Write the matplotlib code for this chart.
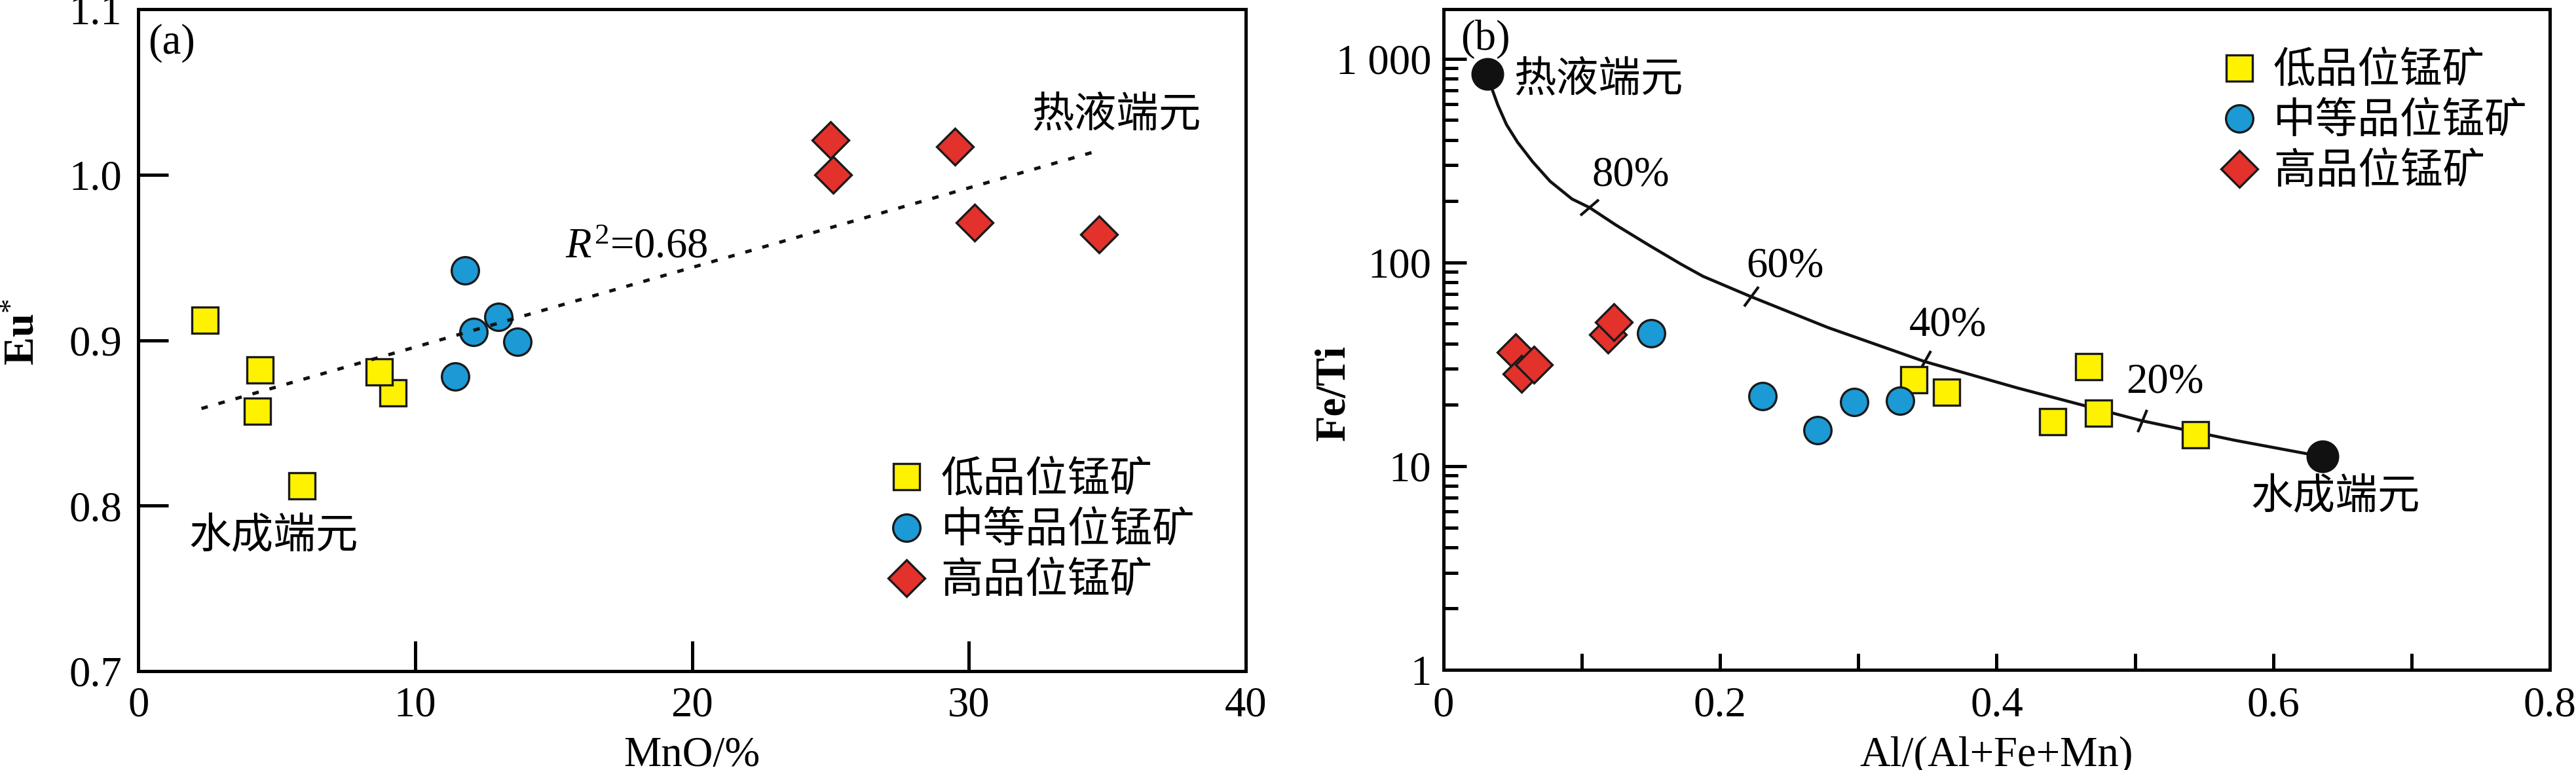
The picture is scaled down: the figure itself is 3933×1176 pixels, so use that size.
import matplotlib
matplotlib.use("Agg")
import matplotlib.pyplot as plt
from matplotlib.markers import MarkerStyle
from matplotlib.transforms import Affine2D
from matplotlib.ticker import FixedLocator, FixedFormatter, LogLocator, NullFormatter

plt.rcParams['font.family'] = ['Liberation Serif', 'Noto Sans CJK SC']
plt.rcParams['mathtext.fontset'] = 'custom'
plt.rcParams['mathtext.rm'] = 'Liberation Serif'
plt.rcParams['mathtext.it'] = 'Liberation Serif:italic'
plt.rcParams['mathtext.bf'] = 'Liberation Serif:bold'
plt.rcParams['axes.linewidth'] = 1.2

FS = 15.5
CJK = ['Noto Sans CJK SC', 'Liberation Serif']

# ---------- data: panel (a) ----------
low_mno = [2.4, 4.4, 4.3, 5.9, 9.2, 8.7]
low_eu = [0.912, 0.882, 0.857, 0.812, 0.868, 0.881]
mid_mno = [11.8, 11.45, 12.1, 13.0, 13.7]
mid_eu = [0.942, 0.878, 0.905, 0.914, 0.899]
high_mno = [25.0, 25.1, 29.5, 30.2, 34.7]
high_eu = [1.021, 1.000, 1.017, 0.971, 0.964]
trend_x = [2.28, 34.48]
trend_y = [0.8587, 1.0136]

# ---------- data: panel (b) ----------
low_al = [0.340, 0.364, 0.4666, 0.4404, 0.4737, 0.5438]
low_feti = [26.6, 23.1, 30.8, 16.5, 18.2, 14.3]
mid_al = [0.150, 0.2306, 0.2704, 0.2972, 0.330]
mid_feti = [45.0, 22.0, 15.0, 20.6, 20.9]
high_al = [0.0523, 0.0565, 0.0654, 0.1189, 0.123]
high_feti = [36.2, 28.4, 31.4, 44.3, 50.8]

# mixing curve
mix_x = [0.0315, 0.0352, 0.0392, 0.0455, 0.0534, 0.0644, 0.0771, 0.0928,
         0.1055, 0.1244, 0.1481, 0.1718, 0.1876, 0.2226, 0.278, 0.348,
         0.415, 0.505, 0.572, 0.6357]
mix_y = [840, 705, 593, 475, 390, 312, 250, 205, 186, 153, 122, 98, 85.5,
         67.8, 47.9, 32.6, 24.2, 16.7, 13.4, 11.13]
end_x = [0.0315, 0.6357]
end_y = [840, 11.13]
pct_labels = ['80%', '60%', '40%', '20%']
pct_x = [0.1055, 0.2226, 0.3482, 0.5054]
pct_y = [186, 67.8, 32.6, 16.7]
pct_angle = [41.6, 55.4, 59.6, 68.6]
pct_text_x = [0.1075, 0.219, 0.3366, 0.4936]
pct_text_y = [268, 95.6, 49, 25.9]

labels = ['低品位锰矿', '中等品位锰矿', '高品位锰矿']
colors = ['#FFF200', '#1B9AD6', '#E2322B']

fig = plt.figure(figsize=(13.11, 3.92), dpi=300)
ax1 = fig.add_axes([0.0537, 0.1284, 0.4299, 0.8596])
ax2 = fig.add_axes([0.5604, 0.1301, 0.4294, 0.8579])

mk = dict(linestyle='none', markeredgecolor='#1a1a1a', markeredgewidth=0.8, zorder=4)

# ---------- panel (a) ----------
ax1.plot(trend_x, trend_y, color='#111111', lw=1.2, linestyle=(0, (2, 3.4)),
         dash_capstyle='butt', zorder=5)
ax1.plot(low_mno, low_eu, marker='s', ms=9.8, color=colors[0], label=labels[0], **mk)
ax1.plot(mid_mno, mid_eu, marker='o', ms=10, color=colors[1], label=labels[1], **mk)
ax1.plot(high_mno, high_eu, marker='D', ms=9.6, color=colors[2], label=labels[2], **mk)

ax1.set_xlim(0, 40)
ax1.set_ylim(0.7, 1.1)
ax1.set_xticks([0, 10, 20, 30, 40])
ax1.set_yticks([0.7, 0.8, 0.9, 1.0, 1.1])
ax1.set_yticklabels(['0.7', '0.8', '0.9', '1.0', '1.1'])
ax1.tick_params(direction='in', length=11, width=1.2, labelsize=FS, pad=6)
ax1.tick_params(axis='x', pad=5.5)
ax1.set_xlabel('MnO/%', fontsize=FS, labelpad=4)
ax1.set_ylabel(r'$\mathbf{Eu}^{*}$', fontsize=FS)
ax1.yaxis.set_label_coords(-0.086, 0.512)

ax1.text(0.009, 0.978, '(a)', transform=ax1.transAxes, fontsize=FS, va='top', ha='left')
ax1.text(32.26, 1.036, '热液端元', family=CJK, fontsize=FS, va='center', ha='left')
ax1.text(1.84, 0.7815, '水成端元', family=CJK, fontsize=FS, va='center', ha='left')
ax1.text(15.42, 0.950, r'$R^2$=0.68', fontsize=FS, va='baseline', ha='left')

ax1.legend(loc='upper left', bbox_to_anchor=(0.6746, 0.322), frameon=False,
           prop={'family': CJK, 'size': FS}, handlelength=1.0,
           handletextpad=0.31, labelspacing=0.17, borderpad=0,
           borderaxespad=0, numpoints=1)

# ---------- panel (b) ----------
ax2.set_yscale('log')
ax2.plot(mix_x, mix_y, color='#111111', lw=1.1, zorder=2, solid_capstyle='round',
         solid_joinstyle='round')
for x, y, a in zip(pct_x, pct_y, pct_angle):
    m = MarkerStyle('|', transform=Affine2D().rotate_deg(a - 90))
    ax2.plot([x], [y], marker=m, ms=9, mew=1.0, color='#111111', linestyle='none', zorder=2)
for t, x, y in zip(pct_labels, pct_text_x, pct_text_y):
    ax2.text(x, y, t, fontsize=FS, va='center', ha='left')
ax2.plot(end_x, end_y, marker='o', ms=11, color='#111111', linestyle='none', zorder=5)

ax2.plot(low_al, low_feti, marker='s', ms=9.8, color=colors[0], label=labels[0], **mk)
ax2.plot(mid_al, mid_feti, marker='o', ms=10, color=colors[1], label=labels[1], **mk)
ax2.plot(high_al, high_feti, marker='D', ms=9.6, color=colors[2], label=labels[2], **mk)

ax2.set_xlim(0, 0.8)
ax2.set_ylim(1, 1750)
ax2.xaxis.set_major_locator(FixedLocator([0, 0.2, 0.4, 0.6, 0.8]))
ax2.xaxis.set_major_formatter(FixedFormatter(['0', '0.2', '0.4', '0.6', '0.8']))
ax2.xaxis.set_minor_locator(FixedLocator([0.1, 0.3, 0.5, 0.7]))
ax2.yaxis.set_major_locator(FixedLocator([1, 10, 100, 1000]))
ax2.yaxis.set_major_formatter(FixedFormatter(['1', '10', '100', '1 000']))
ax2.yaxis.set_minor_locator(LogLocator(base=10, subs=[2, 3, 4, 5, 6, 7, 8, 9]))
ax2.yaxis.set_minor_formatter(NullFormatter())
ax2.tick_params(axis='y', which='major', direction='in', length=8.4, width=1.2,
                labelsize=FS, pad=4.5)
ax2.tick_params(axis='y', which='minor', direction='in', length=5.2, width=1.2)
ax2.tick_params(axis='x', which='both', direction='in', length=6, width=1.2,
                labelsize=FS, pad=6)
ax2.set_xlabel('Al/(Al+Fe+Mn)', fontsize=FS, labelpad=4)
ax2.set_ylabel('Fe/Ti', fontsize=FS, fontweight='bold')
ax2.yaxis.set_label_coords(-0.081, 0.419)

ax2.text(0.0154, 0.984, '(b)', transform=ax2.transAxes, fontsize=FS, va='top', ha='left')
ax2.text(0.0507, 786, '热液端元', family=CJK, fontsize=FS, va='center', ha='left')
ax2.text(0.584, 7.09, '水成端元', family=CJK, fontsize=FS, va='center', ha='left')

ax2.legend(loc='upper left', bbox_to_anchor=(0.700, 0.940), frameon=False,
           prop={'family': CJK, 'size': FS}, handlelength=1.0,
           handletextpad=0.31, labelspacing=0.17, borderpad=0,
           borderaxespad=0, numpoints=1)

fig.savefig('out.png', dpi=300)
